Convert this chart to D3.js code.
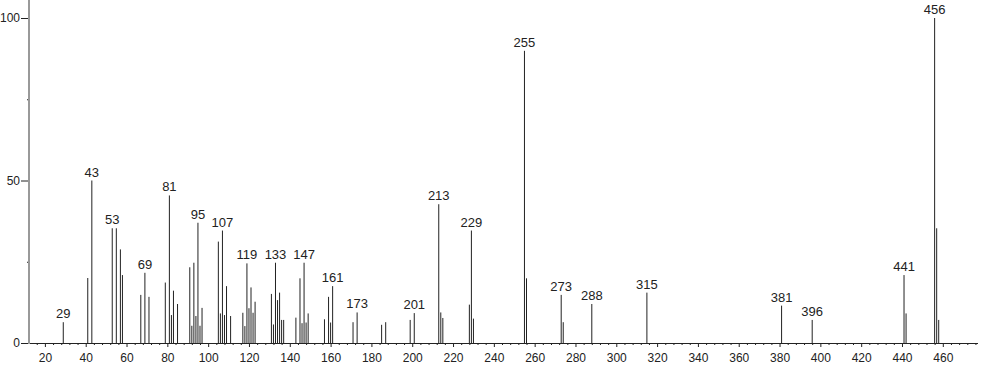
<!DOCTYPE html>
<html>
<head>
<meta charset="utf-8">
<script src="https://cdn.jsdelivr.net/npm/d3@7"></script>
<style>
    body { margin: 0; background: #fff; }
    svg { display: block; font-family: "Liberation Sans", Arial, sans-serif; }
    .axis text { fill: #222; font-size: 12px; }
    .peak-label { fill: #222; font-size: 13px; text-anchor: middle; }
</style>
</head>
<body>
<svg id="chart"></svg>
<script>
// mass spectrum: m/z and relative intensity
const mz = [
    29, 41, 43, 53, 55, 57, 58, 67, 69, 71, 79, 81, 82, 83, 85,
    91, 92, 93, 94, 95, 96, 97, 105, 106, 107, 108, 109, 111,
    117, 118, 119, 120, 121, 122, 123, 131, 132, 133, 134, 135, 136, 137,
    143, 145, 146, 147, 148, 149, 157, 159, 160, 161, 171, 173, 185, 187,
    199, 201, 213, 214, 215, 228, 229, 230, 255, 256, 273, 274, 288, 315,
    381, 396, 441, 442, 456, 457, 458
];
const intensity = [
    6.4, 20, 50, 35.3, 35.3, 28.8, 20.9, 14.8, 21.6, 14.2, 18.6, 45.4, 8.6, 16.1, 12,
    23.3, 5.3, 24.7, 8.3, 37, 5.3, 10.8, 31.2, 9.1, 34.6, 8.6, 17.5, 8.3,
    9.3, 5.2, 24.5, 10.7, 17.1, 9.3, 12.7, 15.1, 5.7, 24.7, 13.2, 15.5, 7.1, 7.1,
    7.8, 19.9, 6.1, 24.7, 6.3, 9.1, 7.3, 14.2, 6.3, 17.5, 6.4, 9.4, 5.6, 6.4,
    7.1, 9.2, 42.7, 9.4, 7.7, 11.8, 34.6, 7.5, 89.9, 19.9, 14.8, 6.4, 12, 15.5,
    11.5, 7.1, 20.9, 9.1, 100, 35.3, 7.1
];
const labeledPeaks = [29, 43, 53, 69, 81, 95, 107, 119, 133, 147, 161, 173,
    201, 213, 229, 255, 273, 288, 315, 381, 396, 441, 456];
const xMajorTicks = d3.range(20, 461, 20);
const xMinorTicks = d3.range(16, 477, 4).filter(v => v % 20 !== 0);
const yMajorTicks = [0, 50, 100];
const yMinorTicks = [25, 75];

const width = 982, height = 365;

const svg = d3.select('#chart')
    .attr('width', width)
    .attr('height', height);

const xScale = d3.scaleLinear()
    .domain([20, 460])
    .range([44.9, 942.8]);
const yScale = d3.scaleLinear()
    .domain([0, 100])
    .range([343, 18]);

const x0 = 29, xEnd = 978;

// peaks
const peaks = mz.map((m, i) => ({ mz: m, value: intensity[i] }));

svg.append('g')
    .attr('class', 'peaks')
    .selectAll('line')
    .data(peaks)
    .enter()
    .append('line')
    .attr('x1', d => xScale(d.mz))
    .attr('x2', d => xScale(d.mz))
    .attr('y1', yScale(0))
    .attr('y2', d => yScale(d.value))
    .style('stroke', '#222')
    .style('stroke-width', 1);

// x axis
const xAxisG = svg.append('g')
    .attr('class', 'axis x-axis')
    .attr('transform', `translate(0, ${yScale(0)})`);

xAxisG.call(d3.axisBottom(xScale)
        .tickValues(xMajorTicks)
        .tickSize(4)
        .tickPadding(6))
    .call(g => g.select('.domain').remove());

xAxisG.append('g')
    .call(d3.axisBottom(xScale)
        .tickValues(xMinorTicks)
        .tickSize(2)
        .tickFormat(''))
    .call(g => g.select('.domain').remove());

xAxisG.selectAll('.tick line').style('stroke', '#222');

svg.append('line')
    .attr('x1', x0)
    .attr('x2', xEnd)
    .attr('y1', yScale(0) + 0.5)
    .attr('y2', yScale(0) + 0.5)
    .style('stroke', '#222');

// y axis
const yAxisG = svg.append('g')
    .attr('class', 'axis y-axis')
    .attr('transform', `translate(${x0}, 0)`);

yAxisG.call(d3.axisLeft(yScale)
        .tickValues(yMajorTicks)
        .tickSize(8)
        .tickPadding(1))
    .call(g => g.select('.domain').remove());

yAxisG.append('g')
    .call(d3.axisLeft(yScale)
        .tickValues(yMinorTicks)
        .tickSize(2)
        .tickFormat(''))
    .call(g => g.select('.domain').remove());

yAxisG.selectAll('.tick line').style('stroke', '#222');

svg.append('line')
    .attr('x1', x0)
    .attr('x2', x0)
    .attr('y1', 0)
    .attr('y2', yScale(0) + 1)
    .style('stroke', '#999')
    .style('stroke-width', 2);

// peak labels
svg.append('g')
    .selectAll('text')
    .data(peaks.filter(d => labeledPeaks.includes(d.mz)))
    .enter()
    .append('text')
    .attr('class', 'peak-label')
    .attr('x', d => xScale(d.mz))
    .attr('y', d => yScale(d.value) - 4)
    .text(d => d.mz);
</script>
</body>
</html>
